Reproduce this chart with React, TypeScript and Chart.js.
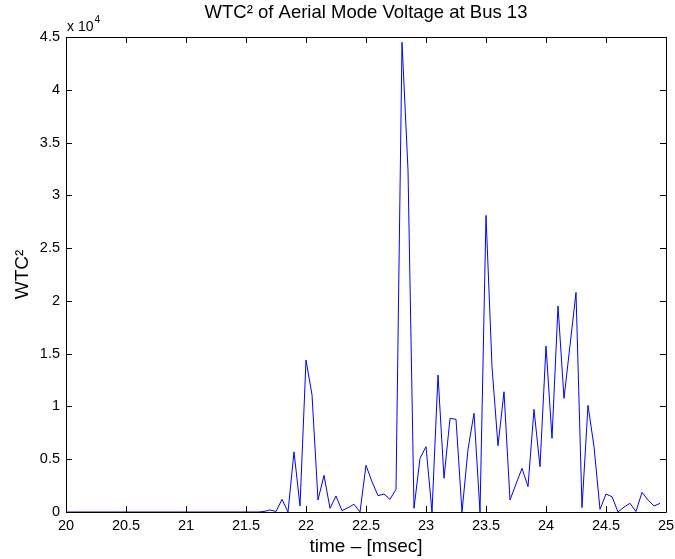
import React, { useEffect, useRef } from "react";
import { Chart, registerables } from "chart.js";

Chart.register(...registerables);

const times: number[] = [
  20.0, 20.05, 20.1, 20.15, 20.2, 20.25, 20.3, 20.35, 20.4, 20.45,
  20.5, 20.55, 20.6, 20.65, 20.7, 20.75, 20.8, 20.85, 20.9, 20.95,
  21.0, 21.05, 21.1, 21.15, 21.2, 21.25, 21.3, 21.35, 21.4, 21.45,
  21.5, 21.55, 21.6, 21.65, 21.7, 21.75, 21.8, 21.85, 21.9, 21.95,
  22.0, 22.05, 22.1, 22.15, 22.2, 22.25, 22.3, 22.35, 22.4, 22.45,
  22.5, 22.55, 22.6, 22.65, 22.7, 22.75, 22.8, 22.85, 22.9, 22.95,
  23.0, 23.05, 23.1, 23.15, 23.2, 23.25, 23.3, 23.35, 23.4, 23.45,
  23.5, 23.55, 23.6, 23.65, 23.7, 23.75, 23.8, 23.85, 23.9, 23.95,
  24.0, 24.05, 24.1, 24.15, 24.2, 24.25, 24.3, 24.35, 24.4, 24.45,
  24.5, 24.55, 24.6, 24.65, 24.7, 24.75, 24.8, 24.85, 24.9, 24.95,
];

const wtc2: number[] = [
  0, 0, 0, 0, 0, 0, 0, 0, 0, 0,
  0, 0, 0, 0, 0, 0, 0, 0, 0, 0,
  0, 0, 0, 0, 0, 0, 0, 0, 0, 0,
  0, 0, 0, 50, 190, 50, 1200, 0, 5700, 570,
  14400, 11100, 1140, 3470, 350, 1510, 130, 410, 730, 0,
  4420, 2870, 1550, 1700, 1200, 2150, 44500, 32400, 350, 5080,
  6190, 0, 12970, 3200, 8870, 8780, 0, 5930, 9350, 0,
  28100, 13760, 6280, 11390, 1140, 2650, 4140, 2400, 9720, 4290,
  15720, 6980, 19510, 10770, 15780, 20800, 410, 10100, 6190, 250,
  1700, 1450, 0, 470, 820, 50, 1860, 1140, 570, 820,
];

const xTickValues: number[] = [20, 20.5, 21, 21.5, 22, 22.5, 23, 23.5, 24, 24.5, 25];
const yTickValues: number[] = [0, 5000, 10000, 15000, 20000, 25000, 30000, 35000, 40000, 45000];

const titleText = "WTC² of Aerial Mode Voltage at Bus 13";
const xLabel = "time – [msec]";
const yLabel = "WTC²";
const exponentBase = "x 10";
const exponentPower = "4";

const FONT = "'Liberation Sans', Arial, Helvetica, sans-serif";

const boxPlugin = {
  id: "matlabBox",
  afterDatasetsDraw(chart: any) {
    const { ctx, chartArea } = chart;
    const { left, right, top, bottom } = chartArea;
    const xs = chart.scales.x;
    const ys = chart.scales.y;
    const tl = 6;
    ctx.save();
    ctx.strokeStyle = "#000";
    ctx.lineWidth = 1;
    ctx.beginPath();
    xTickValues.forEach((v) => {
      const px = Math.round(xs.getPixelForValue(v)) + 0.5;
      ctx.moveTo(px, bottom);
      ctx.lineTo(px, bottom - tl);
      ctx.moveTo(px, top);
      ctx.lineTo(px, top + tl);
    });
    yTickValues.forEach((v) => {
      const py = Math.round(ys.getPixelForValue(v)) + 0.5;
      ctx.moveTo(left, py);
      ctx.lineTo(left + tl, py);
      ctx.moveTo(right, py);
      ctx.lineTo(right - tl, py);
    });
    ctx.stroke();
    ctx.beginPath();
    ctx.rect(Math.round(left) + 0.5, Math.round(top) + 0.5, Math.round(right - left), Math.round(bottom - top));
    ctx.stroke();
    // exponent label
    ctx.fillStyle = "#000";
    ctx.textBaseline = "alphabetic";
    ctx.textAlign = "left";
    ctx.font = `14px ${FONT}`;
    ctx.fillText(exponentBase, left + 1, top - 6);
    const w = ctx.measureText(exponentBase).width;
    ctx.font = `10px ${FONT}`;
    ctx.fillText(exponentPower, left + 1 + w + 1, top - 14);
    ctx.restore();
  },
};

export default function App() {
  const ref = useRef<HTMLCanvasElement | null>(null);
  useEffect(() => {
    if (!ref.current) return;
    const points = times.map((t, i) => ({ x: t, y: wtc2[i] }));
    const chart = new Chart(ref.current, {
      type: "line",
      data: {
        datasets: [
          {
            data: points,
            borderColor: "#0000ff",
            borderWidth: 1,
            pointRadius: 0,
            tension: 0,
            fill: false,
          },
        ],
      },
      options: {
        animation: false,
        responsive: false,
        devicePixelRatio: 1,
        layout: { padding: { left: 0, right: 9, top: 0, bottom: 0 } },
        plugins: {
          legend: { display: false },
          tooltip: { enabled: false },
          title: {
            display: true,
            text: titleText,
            fullSize: false,
            color: "#000",
            font: { family: FONT, size: 18.5, weight: "normal", lineHeight: 1.2 },
            padding: { top: 2, bottom: 12.8 },
          },
        },
        scales: {
          x: {
            type: "linear",
            min: 20,
            max: 25,
            afterFit: (s: any) => {
              s.height = 47;
              s.paddingLeft = 0;
              s.paddingRight = 0;
            },
            afterBuildTicks: (s: any) => {
              s.ticks = xTickValues.map((v) => ({ value: v }));
            },
            grid: { display: false, drawTicks: false },
            border: { display: false },
            ticks: {
              autoSkip: false,
              maxRotation: 0,
              padding: 5,
              color: "#000",
              font: { family: FONT, size: 14.5 },
              callback: (v: any) => String(v),
            },
            title: {
              display: true,
              text: xLabel,
              color: "#000",
              font: { family: FONT, size: 19, lineHeight: 1.2 },
              padding: { top: 0, bottom: 1 },
            },
          },
          y: {
            type: "linear",
            min: 0,
            max: 45000,
            afterFit: (s: any) => {
              s.width = 66;
              s.paddingTop = 0;
              s.paddingBottom = 0;
            },
            afterBuildTicks: (s: any) => {
              s.ticks = yTickValues.map((v) => ({ value: v }));
            },
            grid: { display: false, drawTicks: false },
            border: { display: false },
            ticks: {
              autoSkip: false,
              padding: 6,
              color: "#000",
              font: { family: FONT, size: 14.5 },
              callback: (v: any) => String(Number(v) / 10000),
            },
            title: {
              display: true,
              text: yLabel,
              color: "#000",
              font: { family: FONT, size: 19, lineHeight: 1.2 },
              padding: { top: 11.5, bottom: 0 },
            },
          },
        },
      },
      plugins: [boxPlugin],
    });
    return () => chart.destroy();
  }, []);
  return (
    <div style={{ position: "absolute", left: 0, top: 0, width: 675, height: 559, background: "#fff" }}>
      <canvas ref={ref} width={675} height={559} style={{ display: "block", width: 675, height: 559 }} />
    </div>
  );
}
